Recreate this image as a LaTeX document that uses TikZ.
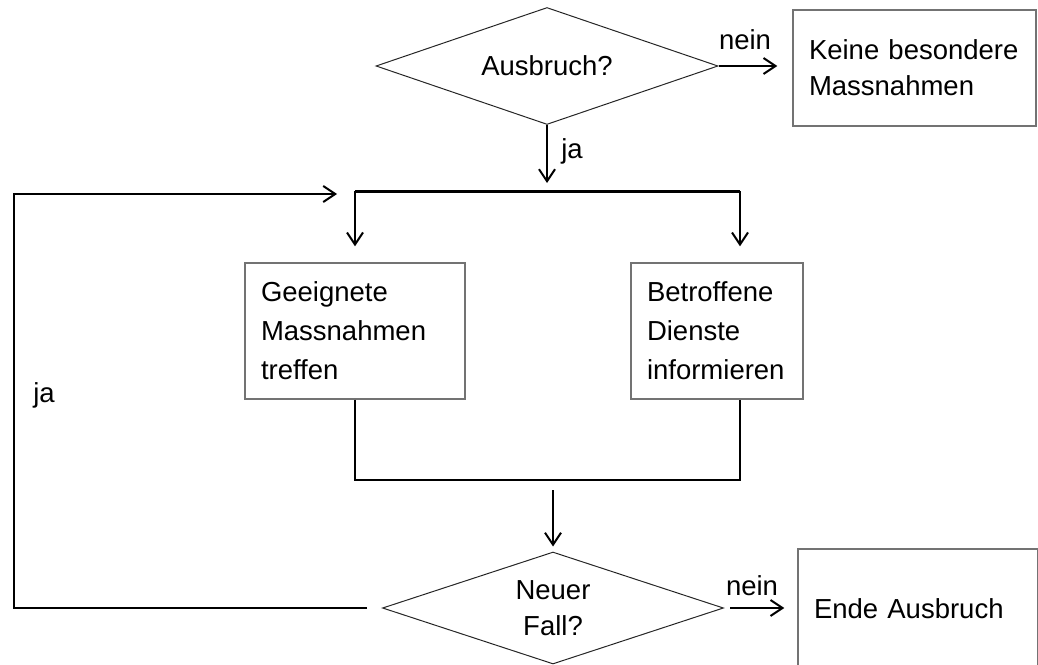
\documentclass[tikz,border=0pt]{standalone}
\usepackage{fontspec}
\setmainfont{Liberation Sans}
\usetikzlibrary{arrows.meta, shapes.geometric}

\tikzset{
    decision/.style={diamond, draw=black!85, line width=0.5pt, inner sep=0pt, aspect=2.9, align=center, font=\fontsize{13.75}{18}\selectfont},
    process/.style={rectangle, draw=black!55, line width=0.7pt, inner xsep=8pt, align=left, font=\fontsize{13.75}{19.5}\selectfont},
    flow/.style={line width=1.2pt},
    flowarr/.style={line width=1pt, -{Straight Barb[length=6pt,width=8pt]}},
    lbl/.style={font=\fontsize{13.75}{16}\selectfont},
}

\begin{document}
\begin{tikzpicture}[x=0.5pt, y=-0.5pt]
        \useasboundingbox (0,0) rectangle (1038,664);

        \node[decision, minimum width=171pt, minimum height=58.5pt] at (547,66) (ausbruch) {Ausbruch?};
        \node[process, text width=105.5pt, minimum height=58pt, font=\fontsize{13.75}{18}\selectfont] at (914.5,68) (keine) {Keine besondere\\Massnahmen};
        \node[process, text width=94pt, minimum height=68pt] at (355,331) (geeignet) {Geeignete\\Massnahmen\\treffen};
        \node[process, text width=70pt, minimum height=68pt] at (717,331) (betroffen) {Betroffene\\Dienste\\informieren};
        \node[decision, minimum width=170.5pt, minimum height=56pt] at (553,608) (neuer) {Neuer\\Fall?};
        \node[process, text width=104pt, minimum height=60pt] at (918,609) (ende) {Ende Ausbruch};

        \coordinate (barL) at (355,191);
        \coordinate (barR) at (740,191);
        \coordinate (join) at (740,480);
        \coordinate (loop) at (14,194);

        \node[lbl] at (745,40) (neinA) {nein};
        \node[lbl] at (572,151) (jaA) {ja};
        \node[lbl] at (752,586) (neinB) {nein};
        \node[lbl] at (44,395) (jaB) {ja};

        \draw[flowarr, shorten >=7.5pt] (ausbruch.east) -- (ausbruch.east -| keine.west);
        \draw[flowarr, shorten >=4pt] (ausbruch.south) -- (ausbruch.south |- barL);
        \draw[line width=1.5pt] (barL) -- (barR);
        \draw[flowarr, shorten >=8pt] (barL) -- (barL |- geeignet.north);
        \draw[flowarr, shorten >=8pt] (barR) -- (barR |- betroffen.north);
        \draw[flow] (geeignet.south) |- (join) -- (join |- betroffen.south);
        \draw[flowarr, shorten <=5pt, shorten >=2.5pt] (neuer.north |- join) -- (neuer.north);
        \draw[flowarr, shorten <=3pt, shorten >=6.5pt] (neuer.east) -- (neuer.east -| ende.west);
        \draw[flowarr, shorten <=7.5pt, shorten >=9pt] (neuer.west) -| (loop) -- (loop -| barL);
    \end{tikzpicture}
\end{document}
